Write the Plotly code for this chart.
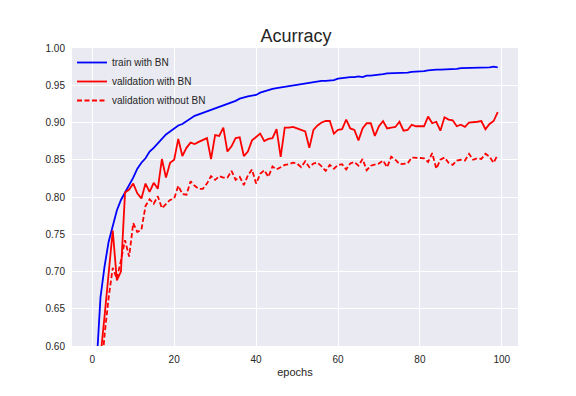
import plotly.graph_objects as go

epochs = list(range(100))

train_bn = [0.45, 0.57, 0.665, 0.707, 0.740, 0.763, 0.782, 0.796, 0.806, 0.815,
            0.826, 0.838, 0.846, 0.852, 0.861, 0.866, 0.872, 0.879, 0.884, 0.888,
            0.892, 0.896, 0.898, 0.902, 0.906, 0.909, 0.911, 0.913, 0.915, 0.917,
            0.918, 0.920, 0.922, 0.925, 0.927, 0.929, 0.932, 0.934, 0.935, 0.936,
            0.937, 0.940, 0.942, 0.943, 0.945, 0.946, 0.947, 0.948, 0.949, 0.950,
            0.951, 0.951, 0.953, 0.954, 0.955, 0.955, 0.956, 0.956, 0.956, 0.957,
            0.959, 0.960, 0.961, 0.961, 0.961, 0.962, 0.961, 0.963, 0.963, 0.964,
            0.964, 0.965, 0.966, 0.966, 0.967, 0.967, 0.966, 0.967, 0.968, 0.968,
            0.969, 0.969, 0.970, 0.971, 0.971, 0.971, 0.971, 0.972, 0.972, 0.972,
            0.973, 0.973, 0.973, 0.973, 0.974, 0.974, 0.974, 0.974, 0.975, 0.974]

val_bn = [0.40, 0.50, 0.585, 0.640, 0.697, 0.755, 0.688, 0.700, 0.806, 0.810,
          0.818, 0.805, 0.798, 0.818, 0.807, 0.819, 0.811, 0.851, 0.826, 0.846,
          0.850, 0.878, 0.855, 0.866, 0.873, 0.871, 0.874, 0.876, 0.879, 0.851,
          0.883, 0.882, 0.893, 0.861, 0.868, 0.879, 0.880, 0.855, 0.861, 0.876,
          0.881, 0.885, 0.875, 0.878, 0.879, 0.891, 0.854, 0.893, 0.893, 0.894,
          0.892, 0.890, 0.888, 0.866, 0.890, 0.896, 0.900, 0.902, 0.902, 0.885,
          0.890, 0.891, 0.904, 0.892, 0.890, 0.876, 0.892, 0.899, 0.899, 0.882,
          0.895, 0.902, 0.892, 0.893, 0.894, 0.901, 0.889, 0.890, 0.897, 0.895,
          0.895, 0.895, 0.908, 0.899, 0.901, 0.889, 0.907, 0.904, 0.903, 0.895,
          0.897, 0.894, 0.900, 0.900, 0.901, 0.902, 0.891, 0.898, 0.902, 0.914]

val_no_bn = [0.35, 0.45, 0.55, 0.615, 0.665, 0.705, 0.690, 0.715, 0.742, 0.720,
             0.765, 0.753, 0.756, 0.788, 0.797, 0.791, 0.801, 0.785, 0.791, 0.796,
             0.798, 0.815, 0.804, 0.803, 0.821, 0.815, 0.811, 0.811, 0.818, 0.828,
             0.823, 0.828, 0.826, 0.826, 0.835, 0.823, 0.827, 0.816, 0.829, 0.837,
             0.818, 0.831, 0.836, 0.827, 0.841, 0.837, 0.840, 0.843, 0.844, 0.846,
             0.845, 0.840, 0.848, 0.840, 0.845, 0.846, 0.841, 0.835, 0.843, 0.838,
             0.843, 0.844, 0.837, 0.845, 0.847, 0.842, 0.851, 0.836, 0.842, 0.844,
             0.845, 0.849, 0.840, 0.854, 0.850, 0.844, 0.844, 0.845, 0.853, 0.853,
             0.852, 0.852, 0.847, 0.859, 0.838, 0.850, 0.853, 0.846, 0.843, 0.849,
             0.850, 0.849, 0.858, 0.850, 0.852, 0.851, 0.858, 0.854, 0.846, 0.857]

x_ticks = [0, 20, 40, 60, 80, 100]
y_ticks = [0.60, 0.65, 0.70, 0.75, 0.80, 0.85, 0.90, 0.95, 1.00]

font_family = "Liberation Sans, Arial, DejaVu Sans, sans-serif"
text_color = "#262626"

fig = go.Figure()
fig.add_trace(go.Scatter(x=epochs, y=train_bn, mode="lines", name="train with BN",
                         line=dict(color="#0000FF", width=1.8)))
fig.add_trace(go.Scatter(x=epochs, y=val_bn, mode="lines", name="validation with BN",
                         line=dict(color="#FF0000", width=1.8)))
fig.add_trace(go.Scatter(x=epochs, y=val_no_bn, mode="lines", name="validation without BN",
                         line=dict(color="#FF0000", width=1.8, dash="5px,2.5px")))

# the page body adds an 8px offset, so margins are shifted to compensate
fig.update_layout(
    width=576, height=396,
    margin=dict(l=64, r=66, t=40, b=58),
    paper_bgcolor="white",
    plot_bgcolor="#EAEAF2",
    font=dict(family=font_family, size=10, color=text_color),
    title=dict(text="Acurracy", x=0.5, xanchor="center", y=1 - 28 / 396,
               yanchor="middle", font=dict(size=18, color=text_color)),
    showlegend=True,
    legend=dict(x=0.0, y=1.0, xanchor="left", yanchor="top",
                bgcolor="rgba(0,0,0,0)", borderwidth=0,
                font=dict(size=10, color=text_color)),
)
fig.update_xaxes(range=[-4.95, 103.95], tickvals=x_ticks, ticktext=[str(v) for v in x_ticks],
                 showgrid=True, gridcolor="white", gridwidth=1, zeroline=False,
                 showline=False, ticks="outside", ticklen=4, tickcolor="rgba(0,0,0,0)",
                 title=dict(text="epochs", font=dict(size=11, color=text_color), standoff=4))
fig.update_yaxes(range=[0.60, 1.00], tickvals=y_ticks, ticktext=[f"{v:.2f}" for v in y_ticks],
                 showgrid=True, gridcolor="white", gridwidth=1, zeroline=False,
                 showline=False, ticks="outside", ticklen=4, tickcolor="rgba(0,0,0,0)")

fig.write_html("out.html")
